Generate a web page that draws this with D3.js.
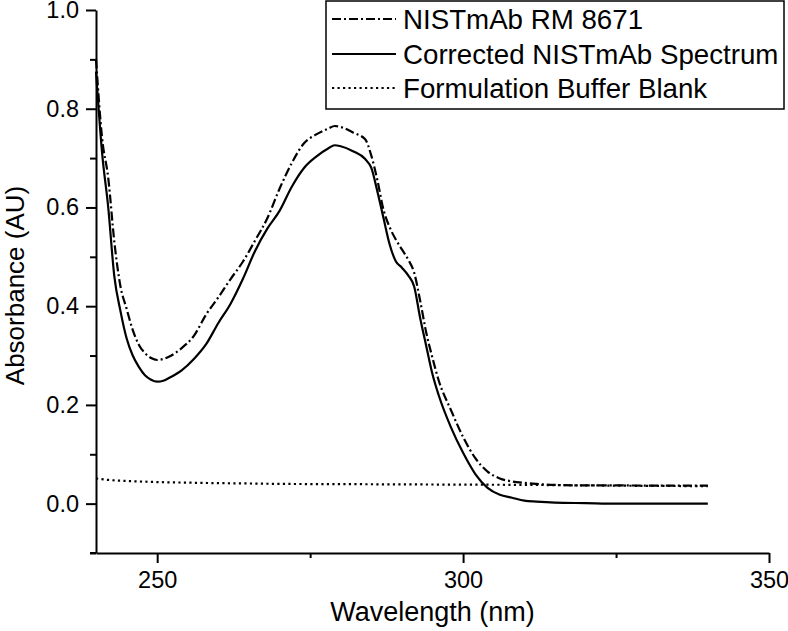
<!DOCTYPE html>
<html>
<head>
<meta charset="utf-8">
<script src="https://cdn.jsdelivr.net/npm/d3@7"></script>
<style>
  body { margin: 0; background: #fff; }
  text { font-family: "Liberation Sans", Arial, sans-serif; fill: #000; }
</style>
</head>
<body>
<div id="chart"></div>
<script>
// spectra
var wavelength = [240, 241, 242, 243, 244, 245, 246, 247, 248, 249, 250, 251, 252, 254, 256, 258, 260, 262, 264, 266, 268, 270, 272, 274, 276, 278, 279, 280, 282, 284, 285, 286, 287, 288, 289, 290, 291, 292, 293, 294, 295, 296, 298, 300, 302, 304, 306, 308, 310, 312, 315, 320, 325, 330, 335, 340];

var nistAbs = [0.90, 0.74, 0.66, 0.53, 0.44, 0.395, 0.352, 0.322, 0.305, 0.295, 0.291, 0.293, 0.298, 0.315, 0.34, 0.383, 0.418, 0.455, 0.49, 0.533, 0.578, 0.638, 0.69, 0.73, 0.748, 0.76, 0.765, 0.763, 0.752, 0.738, 0.705, 0.655, 0.595, 0.56, 0.535, 0.515, 0.495, 0.468, 0.41, 0.345, 0.295, 0.25, 0.19, 0.135, 0.092, 0.065, 0.051, 0.045, 0.042, 0.04, 0.038, 0.037, 0.037, 0.0365, 0.0365, 0.0365];

var correctedAbs = [0.875, 0.71, 0.60, 0.46, 0.39, 0.335, 0.30, 0.277, 0.26, 0.251, 0.247, 0.249, 0.255, 0.27, 0.293, 0.323, 0.366, 0.405, 0.455, 0.512, 0.557, 0.593, 0.642, 0.68, 0.703, 0.72, 0.726, 0.724, 0.714, 0.698, 0.68, 0.632, 0.578, 0.525, 0.491, 0.478, 0.463, 0.44, 0.375, 0.318, 0.262, 0.22, 0.155, 0.103, 0.06, 0.032, 0.018, 0.012, 0.006, 0.004, 0.002, 0.001, 0.0, 0.0, 0.0, 0.0];

var blankWavelength = [240, 242, 245, 250, 255, 260, 265, 270, 280, 290, 300, 310, 320, 330, 340];
var blankAbs = [0.051, 0.048, 0.046, 0.0437, 0.0425, 0.0415, 0.0408, 0.040, 0.0395, 0.039, 0.0385, 0.038, 0.037, 0.036, 0.0355];

var xMajorTicks = [250, 300, 350];
var xMinorTicks = [275, 325];
var yMajorTicks = [0.0, 0.2, 0.4, 0.6, 0.8, 1.0];
var yMinorTicks = [-0.1, 0.1, 0.3, 0.5, 0.7, 0.9];

var legendLabels = ['NISTmAb RM 8671', 'Corrected NISTmAb Spectrum', 'Formulation Buffer Blank'];

(function() {
  var width = 788, height = 631;
  var plotLeft = 96, plotRight = 769, plotTop = 10, plotBottom = 553;

  var x = d3.scaleLinear().domain([240, 350]).range([plotLeft, plotRight]);
  var y = d3.scaleLinear().domain([-0.1, 1.0]).range([plotBottom, plotTop]);

  var svg = d3.select('#chart').append('svg')
    .attr('width', width)
    .attr('height', height);

  var dashDot = '9,3,2,3';
  var dotted = '2.2,3.3';

  function pairs(xs, ys) {
    return xs.map(function(d, i) { return [d, ys[i]]; });
  }

  var line = d3.line()
    .x(function(d) { return x(d[0]); })
    .y(function(d) { return y(d[1]); })
    .curve(d3.curveMonotoneX);

  // curves
  svg.append('path')
    .attr('d', line(pairs(blankWavelength, blankAbs)))
    .attr('fill', 'none').attr('stroke', '#000').attr('stroke-width', 2.2)
    .attr('stroke-dasharray', dotted);

  svg.append('path')
    .attr('d', line(pairs(wavelength, nistAbs)))
    .attr('fill', 'none').attr('stroke', '#000').attr('stroke-width', 2.2)
    .attr('stroke-dasharray', dashDot);

  svg.append('path')
    .attr('d', line(pairs(wavelength, correctedAbs)))
    .attr('fill', 'none').attr('stroke', '#000').attr('stroke-width', 2.2);

  // axes
  svg.append('g')
    .attr('transform', 'translate(0,' + plotBottom + ')')
    .call(d3.axisBottom(x).tickValues(xMajorTicks).tickSize(10).tickSizeOuter(0).tickPadding(8));

  svg.append('g')
    .attr('transform', 'translate(0,' + plotBottom + ')')
    .call(d3.axisBottom(x).tickValues(xMinorTicks).tickSize(5).tickSizeOuter(0).tickFormat(''))
    .select('.domain').remove();

  svg.append('g')
    .attr('transform', 'translate(' + plotLeft + ',0)')
    .call(d3.axisLeft(y).tickValues(yMajorTicks).tickSize(10).tickSizeOuter(0).tickPadding(7)
      .tickFormat(d3.format('.1f')));

  svg.append('g')
    .attr('transform', 'translate(' + plotLeft + ',0)')
    .call(d3.axisLeft(y).tickValues(yMinorTicks).tickSize(6).tickSizeOuter(0).tickFormat(''))
    .select('.domain').remove();

  svg.selectAll('.domain, .tick line').attr('stroke', '#000').attr('stroke-width', 2);
  svg.selectAll('.tick text').style('font-size', '23.5px').attr('fill', '#000')
    .style('font-family', '"Liberation Sans", Arial, sans-serif');

  // little overhang of the x axis past the y axis
  svg.append('line')
    .attr('x1', plotLeft - 6).attr('x2', plotLeft)
    .attr('y1', plotBottom).attr('y2', plotBottom)
    .attr('stroke', '#000').attr('stroke-width', 2);

  svg.append('text')
    .attr('x', (plotLeft + plotRight) / 2)
    .attr('y', 612)
    .attr('text-anchor', 'middle')
    .attr('dominant-baseline', 'central')
    .style('font-size', '27px')
    .text('Wavelength (nm)');

  svg.append('text')
    .attr('transform', 'translate(15,' + ((plotTop + plotBottom) / 2 + 4) + ') rotate(-90)')
    .attr('text-anchor', 'middle')
    .attr('dominant-baseline', 'central')
    .style('font-size', '26px')
    .text('Absorbance (AU)');

  // legend
  var legend = svg.append('g');

  legend.append('rect')
    .attr('x', 326).attr('y', 1)
    .attr('width', 458).attr('height', 108)
    .attr('fill', '#fff').attr('stroke', '#000').attr('stroke-width', 1.5);

  var legendStyles = [dashDot, null, dotted];
  var rowY = [19, 54, 88];

  legendLabels.forEach(function(label, i) {
    legend.append('line')
      .attr('x1', 332).attr('x2', 396)
      .attr('y1', rowY[i]).attr('y2', rowY[i])
      .attr('stroke', '#000').attr('stroke-width', 2.2)
      .attr('stroke-dasharray', legendStyles[i]);

    legend.append('text')
      .attr('x', 403)
      .attr('y', rowY[i])
      .attr('dominant-baseline', 'central')
      .style('font-size', '27.7px')
      .text(label);
  });
})();
</script>
</body>
</html>
